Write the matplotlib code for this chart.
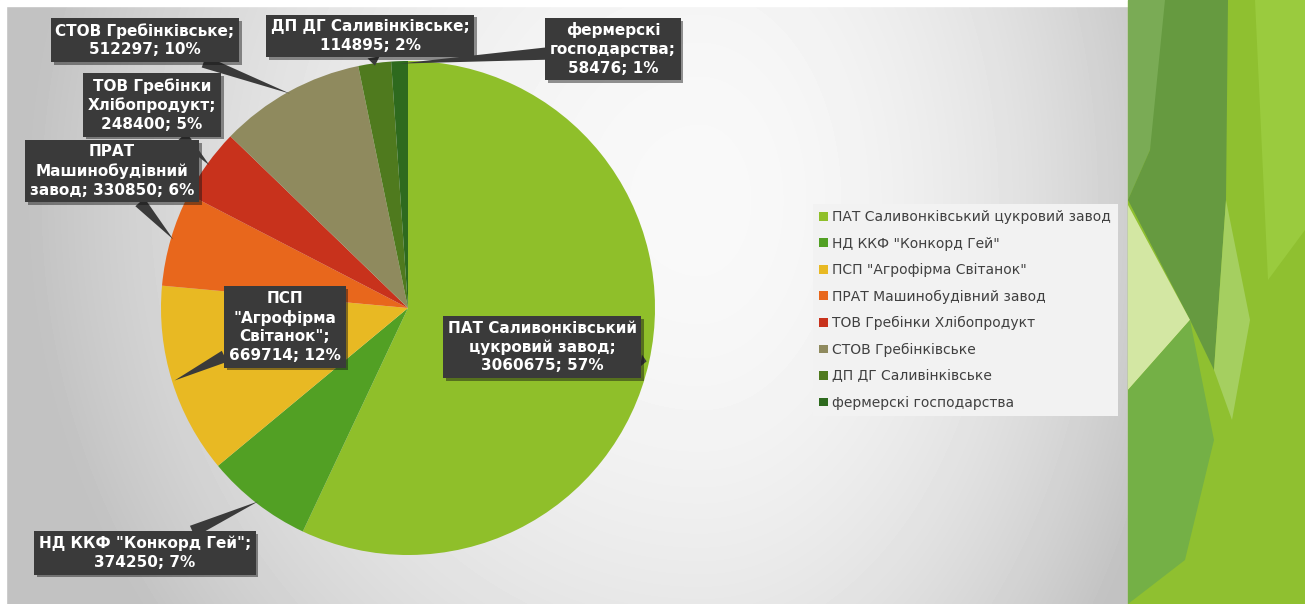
import numpy as np
import matplotlib
matplotlib.use("Agg")
import matplotlib.pyplot as plt
import matplotlib.patheffects as pe
from matplotlib.patches import Polygon, Rectangle

# Дані діаграми
names = ["ПАТ Саливонківський цукровий завод", "НД ККФ \"Конкорд Гей\"",
         "ПСП \"Агрофірма Світанок\"", "ПРАТ Машинобудівний завод",
         "ТОВ Гребінки Хлібопродукт", "СТОВ Гребінківське",
         "ДП ДГ Саливінківське", "фермерскі господарства"]
values = [3060675, 374250, 669714, 330850, 248400, 512297, 114895, 58476]
label_heads = ["ПАТ Саливонківський\nцукровий завод;\n",
               "НД ККФ \"Конкорд Гей\";\n",
               "ПСП\n\"Агрофірма\nСвітанок\";\n",
               "ПРАТ\nМашинобудівний\nзавод; ",
               "ТОВ Гребінки\nХлібопродукт;\n",
               "СТОВ Гребінківське;\n",
               "ДП ДГ Саливінківське;\n",
               "фермерскі\nгосподарства;\n"]
colors = ["#8fbf2a", "#52a024", "#e8b923", "#e8671c",
          "#c8321c", "#8f8a5e", "#4f7a1e", "#2e6a1e"]

# Центри рамок підписів (пікселі)
label_px = [(542, 347), (145, 553), (285, 327), (112, 171),
            (152, 105), (145, 40), (370, 36), (613, 49)]

W, H = 1305, 604
fig = plt.figure(figsize=(W / 100, H / 100), dpi=100)

# Фон слайда
bg = fig.add_axes([0, 0, 1, 1], zorder=-1)
bg.set_xlim(0, W)
bg.set_ylim(H, 0)
bg.axis("off")
yy, xx = np.mgrid[0:H, 0:1128]
sx = np.where(xx < 700, 650.0, 470.0)
d2 = ((xx - 700) / sx) ** 2 + ((yy - 200) / 700.0) ** 2
v = np.clip(0.975 - 0.2 * d2, 0.76, 1)
bg.imshow(v, cmap="gray", vmin=0, vmax=1, extent=(0, 1128, H, 0), aspect="auto")
bg.add_patch(Rectangle((0, 0), 1128, 6, color="white"))
bg.add_patch(Rectangle((0, 0), 6, H, color="white"))
bg.add_patch(Rectangle((1128, 0), W - 1128, H, color="#8fc030"))
deco = [
    ([(1128, 0), (1185, 0), (1150, 150), (1128, 200)], "#7aab55"),
    ([(1165, 0), (1228, 0), (1226, 200), (1214, 370), (1190, 320), (1128, 200), (1150, 150)], "#669a40"),
    ([(1128, 205), (1190, 320), (1128, 390)], "#d3e7a3"),
    ([(1128, 390), (1190, 320), (1214, 440), (1185, 560), (1128, 604)], "#74b046"),
    ([(1214, 370), (1226, 200), (1250, 320), (1232, 420)], "#a5cf60"),
    ([(1255, 0), (1305, 0), (1305, 230), (1268, 280)], "#9acb3e"),
]
for pts, c in deco:
    bg.add_patch(Polygon(pts, closed=True, color=c, lw=0))

# Кругова діаграма
cx, cy, r = 408, 308, 247
ax = fig.add_axes([(cx - r) / W, (H - cy - r) / H, 2 * r / W, 2 * r / H])
wedges, _ = ax.pie(values, colors=colors, startangle=90, counterclock=False,
                   radius=1, wedgeprops=dict(linewidth=0))
ax.set_aspect("auto")
ax.set_xlim(-1, 1)
ax.set_ylim(-1, 1)
ax.axis("off")

total = sum(values)
for w, head, val, (px, py) in zip(wedges, label_heads, values, label_px):
    ang = np.deg2rad((w.theta1 + w.theta2) / 2)
    tip = (0.99 * np.cos(ang), 0.99 * np.sin(ang))
    txt = head + f"{val}; {round(val / total * 100)}%"
    a = ax.annotate(txt, xy=tip, xytext=((px - cx) / r, (cy - py) / r),
                    ha="center", va="center", color="white", fontsize=11,
                    fontweight="bold", linespacing=1.3, annotation_clip=False,
                    bbox=dict(boxstyle="square,pad=0.3", fc="#3a3a3a", ec="none"),
                    arrowprops=dict(arrowstyle="wedge,tail_width=0.8,shrink_factor=0.5",
                                    fc="#3a3a3a", ec="none", shrinkA=0, shrinkB=0))
    a.get_bbox_patch().set_path_effects(
        [pe.withSimplePatchShadow(offset=(2, -2), alpha=0.45), pe.Normal()])

fig.legend(wedges, names, loc="upper left", bbox_to_anchor=(806 / W, 1 - 197 / H),
           frameon=True, facecolor="#f2f2f2", edgecolor="none", fancybox=False,
           framealpha=1, prop={"size": 10}, labelcolor="#404040",
           handlelength=0.6, handleheight=0.6, handletextpad=0.35,
           labelspacing=0.9, borderpad=0.45)

fig.savefig("out.png", dpi=100)
